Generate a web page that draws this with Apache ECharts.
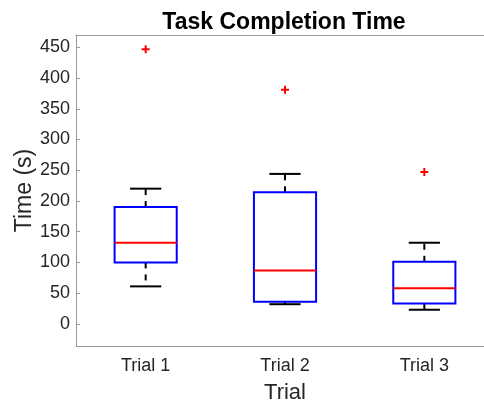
<!DOCTYPE html>
<html>
<head>
<meta charset="utf-8">
<script src="https://cdn.jsdelivr.net/npm/echarts@6/dist/echarts.min.js"></script>
<style>
  html, body { margin: 0; padding: 0; background: #fff; }
  #chart { width: 484px; height: 400px; }
</style>
</head>
<body>
<div id="chart"></div>
<script>
// box stats per trial (seconds)
const categories = ['Trial 1', 'Trial 2', 'Trial 3']
const lowerWhisker = [61, 32, 23]
const q1 = [100, 36, 33]
const median = [132, 87, 58]
const q3 = [190, 214, 101]
const upperWhisker = [220, 244, 132]
const outliers = [447, 381, 247]
const yTicks = [0, 50, 100, 150, 200, 250, 300, 350, 400, 450]

const FONT = '"Liberation Sans", Arial, sans-serif'
const AXIS_COLOR = '#999'

const boxData = categories.map((c, i) => [i, lowerWhisker[i], q1[i], median[i], q3[i], upperWhisker[i]])
const outlierData = outliers.map((v, i) => [i, v])

/* MATLAB style box: blue box, red median, black dashed whiskers */
function renderBox(params, api) {
  const i = api.value(0)
  const lo = api.coord([i, api.value(1)])
  const b1 = api.coord([i, api.value(2)])
  const md = api.coord([i, api.value(3)])
  const b3 = api.coord([i, api.value(4)])
  const hi = api.coord([i, api.value(5)])
  const band = api.size([1, 0])[0]
  const half = band * 0.223
  const cap = band * 0.112
  const x = lo[0]
  const black = { stroke: '#000', lineWidth: 2 }
  const dashed = { stroke: '#000', lineWidth: 2, lineDash: [6, 6] }

  return {
    type: 'group',
    children: [
      { type: 'line', shape: { x1: x, y1: b3[1], x2: x, y2: hi[1] }, style: dashed },
      { type: 'line', shape: { x1: x, y1: b1[1], x2: x, y2: lo[1] }, style: dashed },
      { type: 'line', shape: { x1: x - cap, y1: hi[1], x2: x + cap, y2: hi[1] }, style: black },
      { type: 'line', shape: { x1: x - cap, y1: lo[1], x2: x + cap, y2: lo[1] }, style: black },
      {
        type: 'rect',
        shape: { x: x - half, y: b3[1], width: half * 2, height: b1[1] - b3[1] },
        style: { fill: null, stroke: '#0000ff', lineWidth: 2 }
      },
      { type: 'line', shape: { x1: x - half, y1: md[1], x2: x + half, y2: md[1] }, style: { stroke: '#ff0000', lineWidth: 2 } }
    ]
  }
}

const chart = echarts.init(document.getElementById('chart'), null, { renderer: 'canvas' })

chart.setOption({
  animation: false,
  title: {
    text: 'Task Completion Time',
    left: 279,
    textAlign: 'center',
    top: 6,
    textStyle: { fontFamily: FONT, fontSize: 23, fontWeight: 'bold', color: '#000' }
  },
  // axes run past the right edge, like the cropped reference
  grid: { left: 76, top: 35, width: 418, height: 311, outerBoundsMode: 'none' },
  xAxis: [
    {
      type: 'category',
      data: categories,
      name: 'Trial',
      nameLocation: 'middle',
      nameGap: 36,
      nameMoveOverlap: false,
      nameTextStyle: { fontFamily: FONT, fontSize: 22, color: '#262626' },
      axisLine: { onZero: false, lineStyle: { color: AXIS_COLOR } },
      axisTick: { alignWithLabel: true, inside: true, length: 4, lineStyle: { color: AXIS_COLOR } },
      axisLabel: { fontFamily: FONT, fontSize: 18, color: '#262626', margin: 11 },
      splitLine: { show: false }
    },
    {
      type: 'category',
      data: categories,
      position: 'top',
      axisLine: { onZero: false, lineStyle: { color: AXIS_COLOR } },
      axisTick: { alignWithLabel: true, inside: true, length: 4, lineStyle: { color: AXIS_COLOR } },
      axisLabel: { show: false }
    }
  ],
  yAxis: {
    type: 'value',
    min: -36,
    max: 470,
    name: 'Time (s)',
    nameLocation: 'middle',
    nameGap: 40,
    nameMoveOverlap: false,
    nameTextStyle: { fontFamily: FONT, fontSize: 23, color: '#262626' },
    axisLine: { show: true, lineStyle: { color: AXIS_COLOR } },
    axisTick: { show: true, inside: true, length: 4, customValues: yTicks, lineStyle: { color: AXIS_COLOR } },
    axisLabel: { fontFamily: FONT, fontSize: 18, color: '#262626', margin: 6, customValues: yTicks },
    splitLine: { show: false }
  },
  series: [
    {
      type: 'custom',
      renderItem: renderBox,
      data: boxData,
      encode: { x: 0, y: [1, 2, 3, 4, 5] }
    },
    {
      type: 'scatter',
      data: outlierData,
      symbol: 'path://M3,0h2v3h3v2h-3v3h-2v-3h-3v-2h3z',
      symbolSize: 8,
      itemStyle: { color: '#ff0000', opacity: 1 }
    }
  ]
})
</script>
</body>
</html>
